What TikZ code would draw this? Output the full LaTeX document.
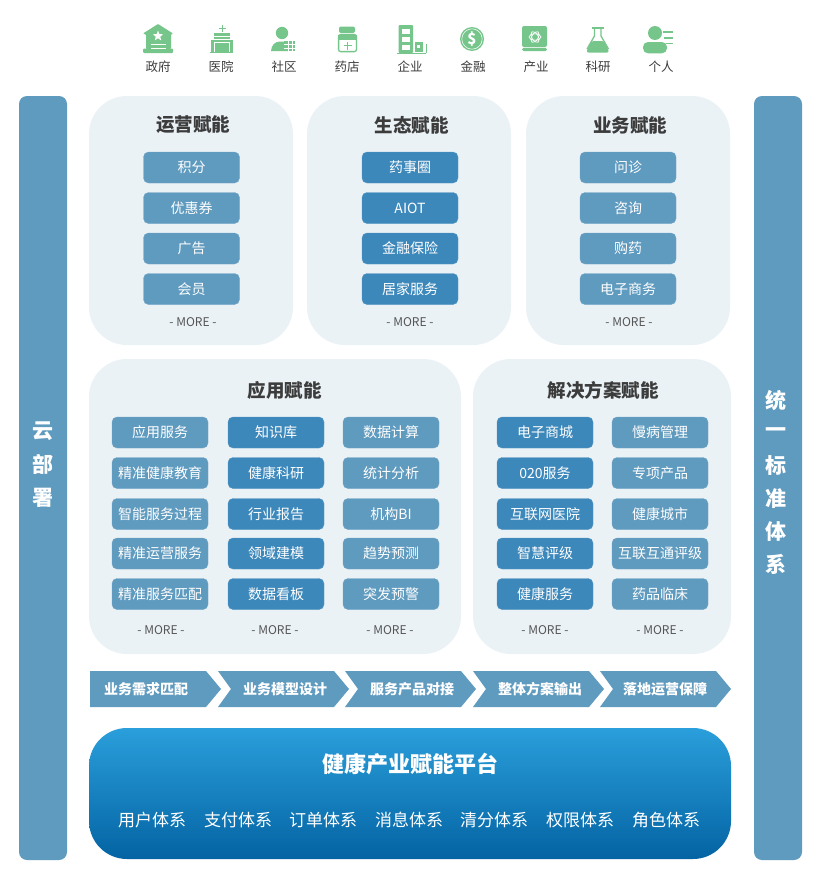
\documentclass[tikz,border=0pt]{standalone}
\usepackage{fontspec}
\setmainfont{Noto Sans CJK SC}
\usetikzlibrary{shapes.geometric}
\definecolor{panelc}{HTML}{EAF2F6}
\definecolor{lightb}{HTML}{5F9ABF}
\definecolor{darkb}{HTML}{3D88BB}
\definecolor{iconc}{HTML}{76C68C}
\definecolor{txtc}{HTML}{3C3C3C}
\definecolor{moretxt}{HTML}{555555}
\definecolor{gradtop}{HTML}{2A9FDB}
\definecolor{gradbot}{HTML}{0463A3}
\tikzset{
 panel/.style={fill=panelc,rounded corners=38pt},
 sidebar/.style={fill=lightb,rounded corners=8pt},
 lbox/.style={fill=lightb,draw=lightb!88!white,line width=.4pt,rounded corners=5pt,minimum width=96pt,minimum height=31pt,inner sep=0pt,text=white,font=\fontsize{14}{16}\selectfont},
 dbox/.style={lbox,fill=darkb,draw=darkb!88!white},
 ptitle/.style={text=txtc,font=\fontsize{18.5}{20}\selectfont\bfseries,inner sep=0pt},
 moretext/.style={text=moretxt,font=\fontsize{12}{14}\selectfont,inner sep=0pt},
 icontext/.style={text=txtc,font=\fontsize{12.5}{14}\selectfont,inner sep=0pt},
 sidetext/.style={text=white,font=\fontsize{21}{23}\selectfont\bfseries,inner sep=0pt},
 chev/.style={fill=lightb},
 chevtext/.style={text=white,font=\fontsize{14}{16}\selectfont\bfseries,inner sep=0pt},
 subtext/.style={text=white,font=\fontsize{17}{19}\selectfont,inner sep=0pt},
 ic/.style={fill=iconc},
 icwl/.style={draw=white,line width=1pt},
 icg/.style={draw=iconc,line width=1.3pt}
}
\newcommand{\boxcol}[4]{%
 \foreach \yy/\tt [count=\i] in {#4}{\node[#1] (#3\i) at (#2,\yy) {\tt};}}
\begin{document}
\begin{tikzpicture}[x=1pt,y=-1pt]
\useasboundingbox (0,0) rectangle (821,878);
\fill[white] (0,0) rectangle (821,878);
% ---- icons ----
% government
\fill[ic,rounded corners=.8pt] (143,33.5)--(158,24)--(173,33.5)--(171,34.5)--(171,49)--(146,49)--(146,34.5)--cycle;
\fill[ic,rounded corners=1pt] (143,48.5) rectangle (173,53);
\node[star,star points=5,star point ratio=2.4,fill=white,inner sep=0pt,minimum size=11pt] (gstar) at (158,36) {};
\draw[icwl] (151,44)--(166,44);
\draw[icwl] (151,48.3)--(166,48.3);
% hospital
\draw[iconc,line width=.9pt] (222,25)--(222,32) (218.5,28)--(225.5,28);
\fill[ic] (214,32.5) rectangle (229.5,52);
\fill[ic] (211,40) rectangle (232.5,52);
\draw[white,line width=.6pt] (214,36)--(229.5,36) (214,39)--(229.5,39) (214,42)--(229.5,42) (214,42)--(214,52) (229.5,42)--(229.5,52);
\draw[iconc,line width=.8pt] (210,52.5)--(233,52.5);
% community
\fill[ic] (282,33) circle (6.2);
\fill[ic] (271,51)..controls (271.5,45) and (275,41.5) .. (280,41.5)--(288,41.5)--(288,51)--cycle;
\fill[ic] (284,41) rectangle (295,51);
\draw[white,line width=.8pt] (288,40.5)--(288,51.5) (292,40.5)--(292,51.5) (283.5,44.5)--(296,44.5) (283.5,48)--(296,48);
% pharmacy
\fill[ic,rounded corners=2pt] (339,26.5) rectangle (355,33);
\draw[icg,rounded corners=2pt] (338.6,34.5) rectangle (356.4,51.6);
\fill[ic] (338,35) rectangle (357,40);
\draw[iconc,line width=1.5pt] (347.5,41.5)--(347.5,49.5) (343.5,45.5)--(351.5,45.5);
% enterprise
\fill[ic,rounded corners=1pt] (398.5,25) rectangle (413,53);
\foreach \yy in {29,37,45}{\fill[white] (402,\yy) rectangle (409.5,\yy+4.5);}
\fill[ic] (415,42) rectangle (423,52);
\fill[white] (417,45) rectangle (420,48);
\draw[iconc,line width=1pt] (397,53)--(426,53) (426,53)--(426,44);
% finance
\fill[ic] (472,39) circle (12);
\draw[white,line width=.5pt] (472,39) circle (10.2);
\node[text=white,inner sep=0pt,font=\fontsize{15}{16}\selectfont\bfseries] (dollar) at (472,39) {\$};
% industry
\fill[ic,rounded corners=2pt] (522,26) rectangle (547,47);
\fill[ic,rounded corners=1.5pt] (522,47.8) rectangle (547,51);
\draw[white,line width=.7pt] (535,37) ellipse (6 and 3.2);
\draw[white,line width=.7pt,rotate around={60:(535,37)}] (535,37) ellipse (6 and 3.2);
\draw[white,line width=.7pt,rotate around={120:(535,37)}] (535,37) ellipse (6 and 3.2);
% research
\draw[iconc,line width=1.3pt] (592,28)--(603.5,28);
\draw[iconc,line width=1.3pt] (594.5,28)--(594.5,36)--(587,49) (601,28)--(601,36)--(608.5,49);
\fill[ic,rounded corners=2.5pt] (591.5,41)--(604,41)--(609.5,52.5)--(586,52.5)--cycle;
% person
\fill[ic] (655,33) circle (7);
\fill[ic,rounded corners=5pt] (643,53.3)--(643,42)--(667,42)--(667,53.3)--cycle;
\draw[iconc,line width=1.7pt] (663,32)--(672.5,32) (664,37.7)--(672.5,37.7) (666,43.5)--(672.5,43.5);
% icon labels
\foreach \xx/\tt [count=\i] in {158/政府,221/医院,284/社区,347/药店,410/企业,473/金融,536/产业,598/科研,661/个人}{
 \node[icontext] (ilab\i) at (\xx,67) {\tt};}
% ---- sidebars ----
\fill[sidebar] (19,96) rectangle (67,860);
\fill[sidebar] (754,96) rectangle (802,860);
\foreach \yy/\tt [count=\i] in {431.5/云,464.5/部,497.5/署}{\node[sidetext] (sl\i) at (43,\yy) {\tt};}
\foreach \yy/\tt [count=\i] in {400/统,432.5/一,465.5/标,498.5/准,531.5/体,564.5/系}{\node[sidetext] (sr\i) at (776,\yy) {\tt};}
% ---- panels ----
\fill[panel] (89,96) rectangle (293,345);
\fill[panel] (307,96) rectangle (511,345);
\fill[panel] (526,96) rectangle (730,345);
\fill[panel] (89,359) rectangle (461,654);
\fill[panel] (473,359) rectangle (731,654);
\node[ptitle] (t1) at (193,125) {运营赋能};
\node[ptitle] (t2) at (411.5,125) {生态赋能};
\node[ptitle] (t3) at (630,125) {业务赋能};
\node[ptitle] (t4) at (284.5,390) {应用赋能};
\node[ptitle] (t5) at (603,390) {解决方案赋能};
\boxcol{lbox}{191.5}{a}{167.5/积分,208/优惠券,248.5/广告,289/会员}
\boxcol{dbox}{410}{b}{167.5/药事圈,208/AIOT,248.5/金融保险,289/居家服务}
\boxcol{lbox}{628}{c}{167.5/问诊,208/咨询,248.5/购药,289/电子商务}
\boxcol{lbox}{160}{d}{432.5/应用服务,473/精准健康教育,514/智能服务过程,553.5/精准运营服务,594/精准服务匹配}
\boxcol{dbox}{276}{e}{432.5/知识库,473/健康科研,514/行业报告,553.5/领域建模,594/数据看板}
\boxcol{lbox}{391}{f}{432.5/数据计算,473/统计分析,514/机构BI,553.5/趋势预测,594/突发预警}
\boxcol{dbox}{545}{g}{432.5/电子商城,473/020服务,514/互联网医院,553.5/智慧评级,594/健康服务}
\boxcol{lbox}{660}{h}{432.5/慢病管理,473/专项产品,514/健康城市,553.5/互联互通评级,594/药品临床}
\foreach \xx/\yy [count=\i] in {193/322.5,410/322.5,629/322.5,161/630,275/630,390/630,545/630,660/630}{
 \node[moretext] (m\i) at (\xx,\yy) {- MORE -};}
% ---- chevrons ----
\fill[chev] (90,671)--(206,671)--(221,689)--(206,707)--(90,707)--cycle;
\fill[chev] (218,671)--(334,671)--(349,689)--(334,707)--(218,707)--(231,689)--cycle;
\fill[chev] (345,671)--(461,671)--(476,689)--(461,707)--(345,707)--(358,689)--cycle;
\fill[chev] (473,671)--(589,671)--(604,689)--(589,707)--(473,707)--(486,689)--cycle;
\fill[chev] (600,671)--(716,671)--(731,689)--(716,707)--(600,707)--(613,689)--cycle;
\foreach \xx/\tt [count=\i] in {146/业务需求匹配,285/业务模型设计,412/服务产品对接,540/整体方案输出,665/落地运营保障}{
 \node[chevtext] (ch\i) at (\xx,689.5) {\tt};}
% ---- platform ----
\shade[top color=gradtop,bottom color=gradbot,rounded corners=38pt] (89,728) rectangle (731,859);
\node[text=white,inner sep=0pt,font=\fontsize{22}{24}\selectfont\bfseries] (plat) at (410,764) {健康产业赋能平台};
\foreach \xx/\tt [count=\i] in {152/用户体系,238/支付体系,323/订单体系,409/消息体系,494/清分体系,580/权限体系,666/角色体系}{
 \node[subtext] (p\i) at (\xx,820) {\tt};}
\end{tikzpicture}
\end{document}
